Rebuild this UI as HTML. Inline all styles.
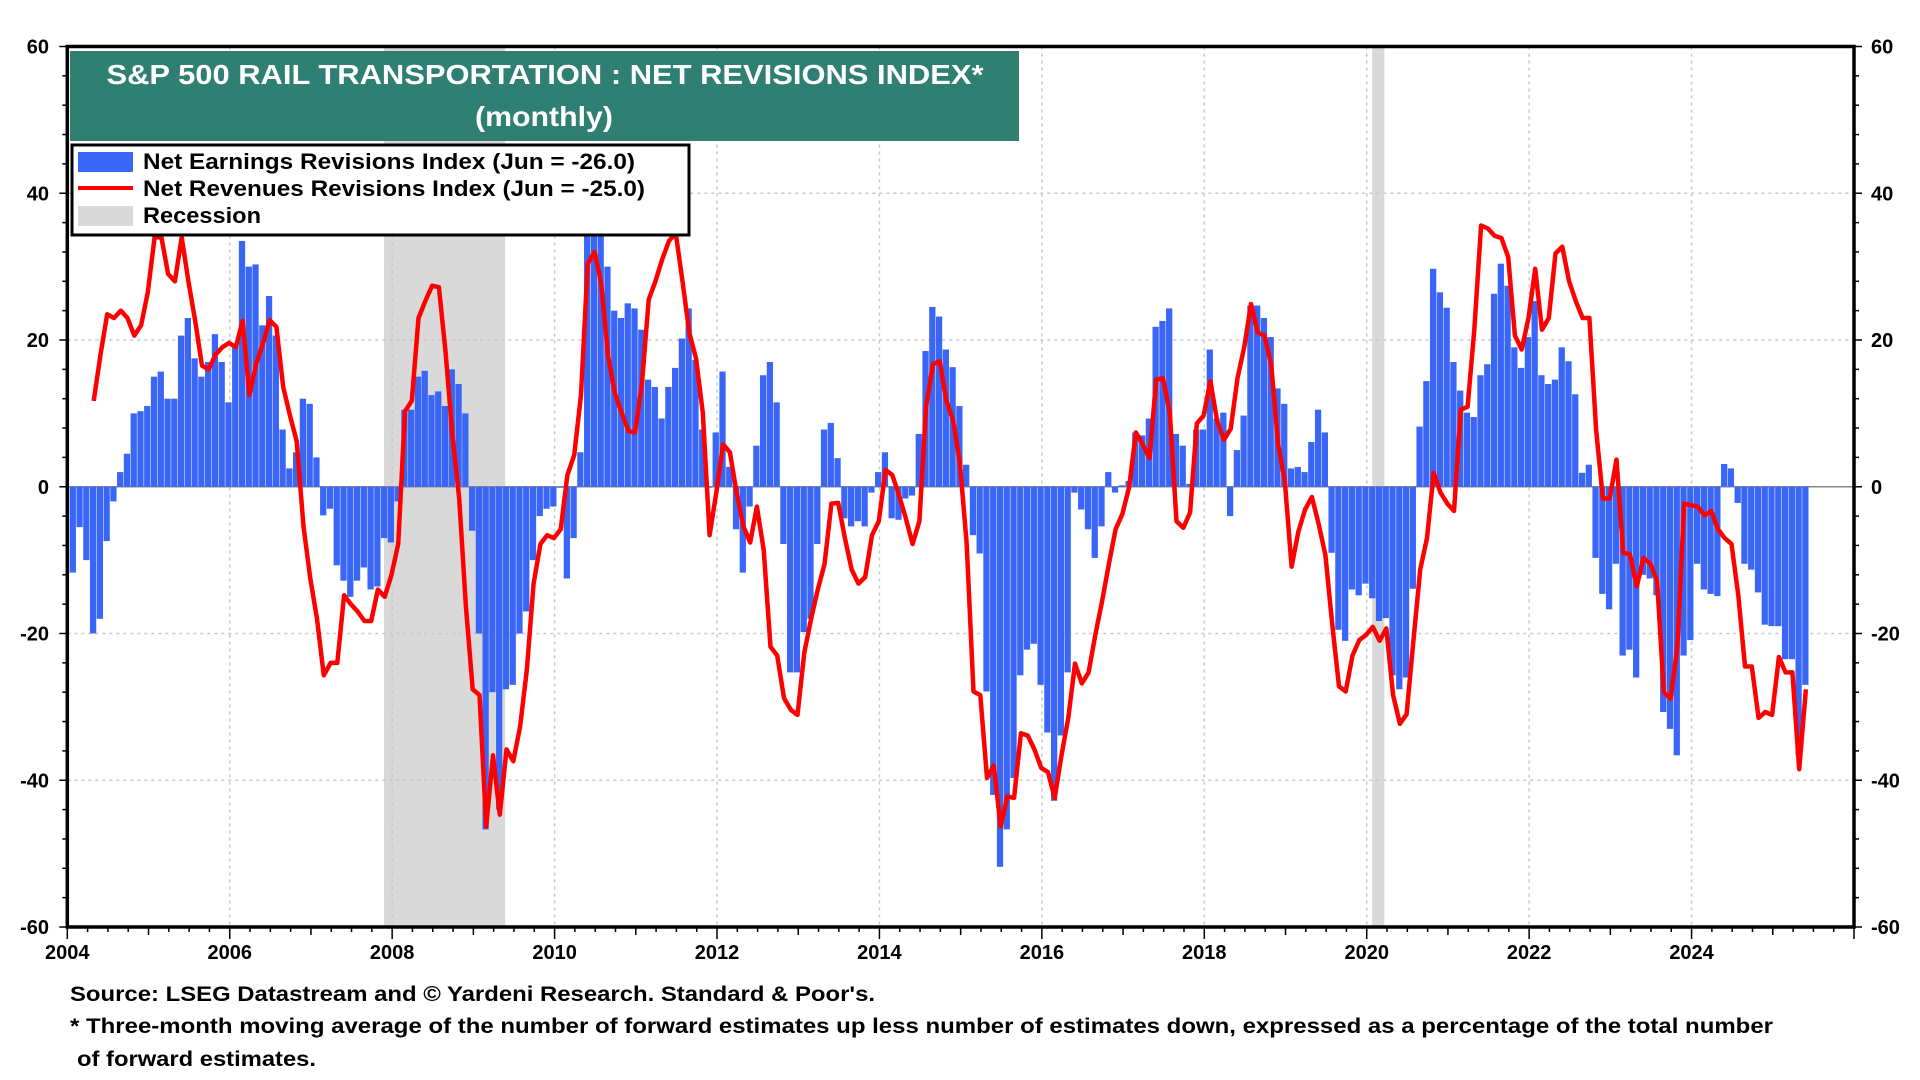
<!DOCTYPE html>
<html><head><meta charset="utf-8"><style>
html,body{margin:0;padding:0;background:#fff;}
svg{display:block;font-family:"Liberation Sans",Arial,sans-serif;}
</style></head><body>
<svg id="chart" width="1920" height="1080" viewBox="0 0 1920 1080" xmlns="http://www.w3.org/2000/svg">
<g id="bg"></g><g id="grid"></g><g id="bars"></g><g id="line"></g><g id="axes"></g>
<rect x="70" y="51" width="949" height="90" fill="#2f7f72"/>
<text x="106.5" y="84" textLength="877" lengthAdjust="spacingAndGlyphs" fill="#fff" font-weight="bold" font-size="28">S&amp;P 500 RAIL TRANSPORTATION : NET REVISIONS INDEX*</text>
<text x="475" y="126" textLength="138" lengthAdjust="spacingAndGlyphs" fill="#fff" font-weight="bold" font-size="28">(monthly)</text>
<g>
<rect x="72" y="145" width="617" height="90" fill="#fff" stroke="#000" stroke-width="3"/>
<rect x="78" y="152" width="55" height="20" fill="#3a66f7"/>
<line x1="78" y1="188" x2="133" y2="188" stroke="#ff0000" stroke-width="4"/>
<rect x="78" y="206" width="55" height="20" fill="#d9d9d9"/>
<text x="143" y="169" textLength="492" lengthAdjust="spacingAndGlyphs" font-size="22" font-weight="bold">Net Earnings Revisions Index (Jun  = -26.0)</text>
<text x="143" y="196" textLength="502" lengthAdjust="spacingAndGlyphs" font-size="22" font-weight="bold">Net Revenues Revisions Index (Jun  = -25.0)</text>
<text x="143" y="223" textLength="118" lengthAdjust="spacingAndGlyphs" font-size="22" font-weight="bold">Recession</text>
</g>
<text x="70" y="1001" textLength="805" lengthAdjust="spacingAndGlyphs" font-size="21" font-weight="bold">Source: LSEG Datastream and © Yardeni Research. Standard &amp; Poor's.</text>
<text x="70" y="1033" textLength="1703" lengthAdjust="spacingAndGlyphs" font-size="21" font-weight="bold">* Three-month moving average of the number of forward estimates up less number of estimates down, expressed as a percentage of the total number</text>
<text x="77" y="1066" textLength="239" lengthAdjust="spacingAndGlyphs" font-size="21" font-weight="bold">of forward estimates.</text>
</svg>
<script>
const earnings = [-11.7,-5.5,-10,-20,-18,-7.4,-2,2,4.5,10,10.3,
11,15,15.7,12,12,20.6,23,17.5,15,17,20.8,17,
11.5,19.5,33.5,30,30.3,22,26,20.6,7.8,2.5,4.7,12,
11.3,4,-3.9,-3,-10.7,-12.8,-15,-12.8,-11,-14,-13.6,-7,
-7.6,-2,10.5,10.5,15,15.8,12.5,13,11,16,14,10,
-6,-20,-46.7,-28,-44,-27.6,-27,-20,-17,-10,-4,-3,
-2.7,0,-12.5,-7,4.7,36,36,36,30,24,23,25,
24.3,21.4,14.6,13.6,9.3,13.6,16.2,20.2,24.3,17.3,7.8,0,
7.4,15.7,2.7,-5.8,-11.7,-2.7,5.6,15.2,17,11.5,-7.8,-25.3,
-25.3,-19.8,-18,-7.8,7.8,8.7,3.9,-4.3,-5.4,-4.7,-5.4,-0.8,
2,4.7,-4.3,-4.5,-1.6,-1.2,7.2,18.5,24.5,23.2,18.7,16.3,
11,3,-6.6,-9.1,-27.9,-42,-51.8,-46.7,-39.7,-25.7,-22.2,-21.4,-27,-33.5,-42.8,-33.9,-25.3,
-0.8,-3.1,-5.8,-9.7,-5.4,2,-0.8,0.2,0.8,7.4,7,9.3,21.8,22.6,24.3,7.2,5.6,0.4,7.8,7.8,
18.7,9.3,10.1,-4,5,9.7,24.7,24.7,23,20.4,13.4,11.3,2.5,2.7,2,6.1,10.5,7.4,
-9,-19.5,-21,-14,-14.8,-13.2,-15.2,-18.3,-17.9,
-25.7,-27.6,-26,-13.9,8.2,14.4,29.7,26.5,24.4,17,13.1,10.1,9.5,15.2,16.7,26.3,30.4,27.4,19,16.2,20.4,25.3,15.2,14,14.6,19,17.1,12.6,1.9,3,
-9.7,-14.6,-16.7,-10.5,-23,-22.2,-26,-12,-12.5,-14.8,-30.7,-33,-36.6,-23,-20.9,
-10.5,-14,-14.6,-14.9,3.1,2.5,-2.2,-10.5,-11.3,-14.4,-18.8,-19,-19,-23.5,-23.5,-36.6,-27];
const revenuesStart = 4;
const revenues = [11.7,18,23.5,23,24,23,20.6,22,
26.5,34,34,29,28,34,28,22.6,16.5,16,18,19,
19.6,19,22.6,12.5,16.7,19.5,22.7,21.8,13.6,9.7,6.2,-5.4,
-12.5,-18,-25.7,-24,-24,-14.8,-16,-17,-18.3,-18.3,-14,-15,
-12,-7.8,10.3,11.7,23,25.3,27.4,27.2,18.3,7,-1.6,-16.3,
-27.6,-28.4,-46.3,-36.6,-44.7,-35.8,-37.4,-32.7,-25,-13.2,-7.8,-6.6,
-7,-5.8,1.6,4.3,12.5,30.4,32,27.6,17.9,12.8,10.1,7.6,
7.4,14,25.5,28,31,33.5,34.6,28,21,17.5,10.1,-6.6,
-0.8,5.8,4.7,-0.8,-5.4,-7.6,-2.7,-8.6,-21.8,-23,-28.8,-30.4,
-31.1,-22.6,-18,-14,-10.5,-2.3,-2.2,-7,-11.3,-13.2,-12.3,-6.6,
-4.7,2.3,1.6,-1.2,-4.3,-7.8,-4.7,10.9,16.7,
17.1,11.7,9,3.1,-7.8,-27.9,-28.4,-39.7,-38,-46.3,-42.2,-42.4,-33.6,-33.9,-35.8,-38.3,-38.9,-42.4,-36.6,-31.5,-24.1,-26.8,-25.3,-20.2,-15.6,-10.5,-5.8,-3.7,0,7.4,5.8,3.9,14.6,14.8,10.1,-4.7,-5.6,-3.5,8.6,9.7,14.4,9,6.4,7.9,14.8,19,24.9,21,20.6,16.5,5.8,0.8,-10.9,-6.1,-3.1,-1.4,-5.1,-9.3,-18.7,-27.2,-27.9,-23,-20.9,-20.2,-19.1,
-21,-19.3,-28.4,-32.3,-31,-21,-11.3,-7,1.9,-0.8,-2.3,-3.3,10.5,10.9,21.4,35.6,35.2,34.2,33.9,31.3,20.6,18.7,23,29.7,21.4,23,31.8,32.7,28,25.3,23,23,7.8,-1.6,-1.6,3.7,-9,-9.2,-13.6,-9.7,-10.5,-12.8,-28,-28.9,-21.8,-2.3,-2.5,-2.7,-3.9,-3.3,-5.8,-7,-7.8,-14.8,-24.5,-24.5,-31.5,-30.7,-31.1,-23.2,-25.3,-25.3,-38.5,-27.6];
const recessions = [[46.8,64.7],[192.8,194.6]];
const yTicks = [-60,-40,-20,0,20,40,60];
const xTickYears = [2004,2006,2008,2010,2012,2014,2016,2018,2020,2022,2024];

const L=67.3,R=1854,T=46.5,B=927;
const monthsSpan=(2026-2004)*12;
const mW=(R-L)/monthsSpan;
function xM(m){return L+m*mW;}
function yV(v){return B-(v+60)/120*(B-T);}
const NS="http://www.w3.org/2000/svg";
function mk(tag,attrs,parent){const e=document.createElementNS(NS,tag);for(const k in attrs)e.setAttribute(k,attrs[k]);document.getElementById(parent).appendChild(e);return e;}

recessions.forEach(r=>{
  const e=mk('rect',{x:xM(r[0]),y:T,width:xM(r[1])-xM(r[0]),height:B-T,fill:'#d9d9d9'},'bg');
  
  
});
yTicks.forEach(v=>{
  if(v===-60||v===60)return;
  const e=mk('line',{x1:L,x2:R,y1:yV(v),y2:yV(v),stroke:v===0?'#888':'#c8c8c8','stroke-width':1.5,'stroke-dasharray':v===0?'none':'3,4'},'grid');
  
  
});
xTickYears.forEach(yr=>{
  if(yr===2004)return;
  const x=xM((yr-2004)*12);
  const e=mk('line',{x1:x,x2:x,y1:T,y2:B,stroke:'#c8c8c8','stroke-width':1.5,'stroke-dasharray':'3,4'},'grid');
  
  
});
earnings.forEach((v,k)=>{
  const x0=xM(k+0.35), y0=yV(0), y1=yV(v);
  const e=mk('rect',{x:x0,y:Math.min(y0,y1),width:Math.max(mW-0.5,1),height:Math.max(Math.abs(y1-y0),1),fill:'#3a66f7'},'bars');
  
  
});
let d='';
revenues.forEach((v,i)=>{const m=revenuesStart+i-0.1;d+=(i?'L':'M')+xM(m).toFixed(1)+','+yV(v).toFixed(1);});
const ln=mk('path',{d:d,fill:'none',stroke:'#ff0000','stroke-width':4.5,'stroke-linejoin':'round'},'line');


const fr=mk('rect',{x:L,y:T,width:R-L,height:B-T,fill:'none',stroke:'#000','stroke-width':3.5},'axes');


for(let v=-60;v<=60;v+=4){
  const y=yV(v), major=(v%20===0);
  mk('line',{x1:L-(major?8:5),x2:L,y1:y,y2:y,stroke:'#000','stroke-width':1.5},'axes');
  mk('line',{x1:R,x2:R+(major?8:5),y1:y,y2:y,stroke:'#000','stroke-width':1.5},'axes');
}
yTicks.forEach(v=>{
  const y=yV(v)+7;
  const a=mk('text',{x:49,y:y,'text-anchor':'end','font-size':20,'font-weight':'bold'},'axes');a.textContent=v;
  
  
  const b=mk('text',{x:1871,y:y,'text-anchor':'start','font-size':20,'font-weight':'bold'},'axes');b.textContent=v;
  
  
});
for(let m=0;m<=monthsSpan;m+=3){
  const x=xM(m), yr=(m%24===0), y1=(m%12===0);
  mk('line',{x1:x,x2:x,y1:B,y2:B+(yr?12:(y1?8:5)),stroke:'#000','stroke-width':1.5},'axes');
}
xTickYears.forEach(yr=>{
  const t=mk('text',{x:xM((yr-2004)*12),y:959,'text-anchor':'middle','font-size':20,'font-weight':'bold'},'axes');t.textContent=yr;
  
  
});
</script>
</body></html>
